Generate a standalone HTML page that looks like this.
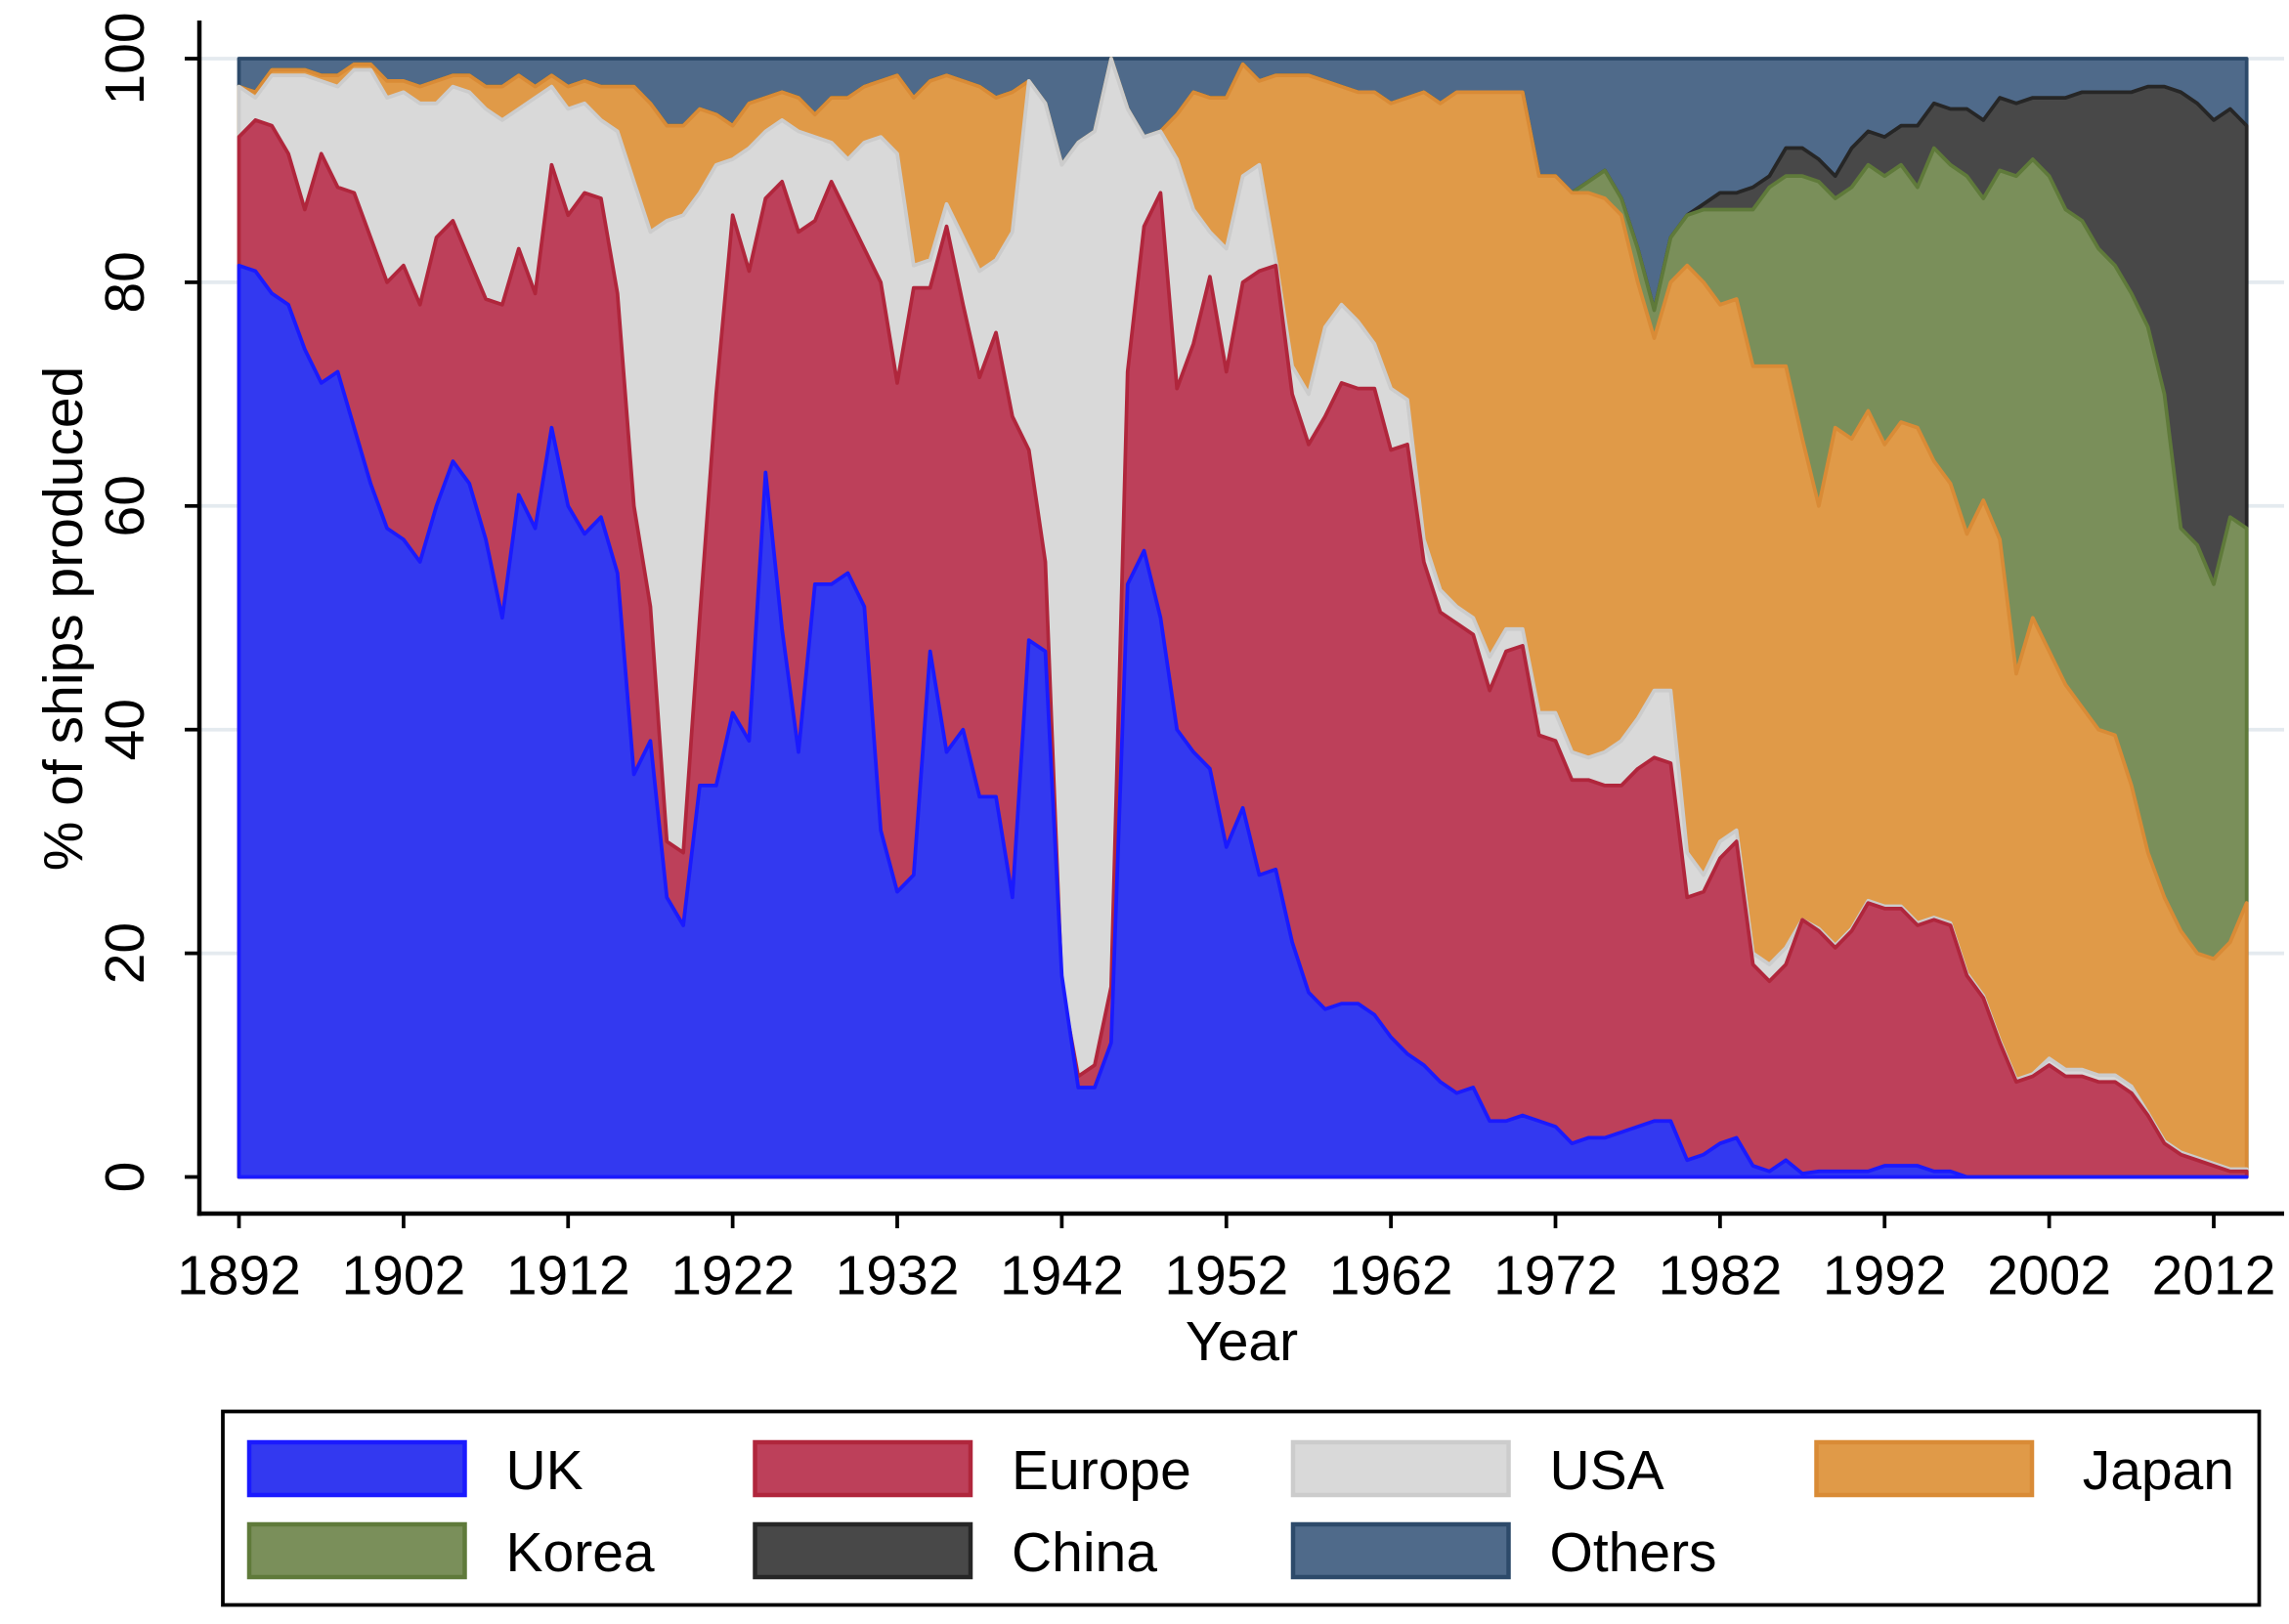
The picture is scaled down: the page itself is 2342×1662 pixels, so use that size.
<!DOCTYPE html>
<html><head><meta charset="utf-8"><style>html,body{margin:0;padding:0;background:#fff}svg{display:block}</style></head>
<body>
<svg id="s" width="2342" height="1662" viewBox="0 0 1561.33 1108" xmlns="http://www.w3.org/2000/svg" font-family="Liberation Sans, Arial, sans-serif">
<rect width="1561.33" height="1108" fill="#fff"/>
<g id="grid"></g>
<g id="areas"></g>
<g id="axes"></g>
</svg>
<script>
const NS="http://www.w3.org/2000/svg";
const X=y=>163+(y-1892)*11.225, Y=v=>803-v*7.63;
const uk=[81.5,81,79,78,74,71,72,67,62,58,57,55,60,64,62,57,50,61,58,67,60,57.5,59,54,36,39,25,22.5,35,35,41.5,39,63,49,38,53,53,54,51,31,25.5,27,47,38,40,34,34,25,48,47,18,8,8,12,53,56,50,40,38,36.5,29.5,33,27,27.5,21,16.5,15,15.5,15.5,14.5,12.5,11,10,8.5,7.5,8,5,5,5.5,5,4.5,3,3.5,3.5,4,4.5,5,5,1.5,2,3,3.5,1,0.5,1.5,0.3,0.5,0.5,0.5,0.5,1,1,1,0.5,0.5,0,0,0,0,0,0,0,0,0,0,0,0,0,0,0,0,0,0];
const eu=[93,94.5,94,91.5,86.5,91.5,88.5,88,84,80,81.5,78,84,85.5,82,78.5,78,83,79,90.5,86,88,87.5,79,60,51,30,29,50,70,86,81,87.5,89,84.5,85.5,89,86,83,80,71,79.5,79.5,85,78,71.5,75.5,68,65,55,17,9,10,17,72,85,88,70.5,74.5,80.5,72,80,81,81.5,70,65.5,68,71,70.5,70.5,65,65.5,55,50.5,49.5,48.5,43.5,47,47.5,39.5,39,35.5,35.5,35,35,36.5,37.5,37,25,25.5,28.5,30,19,17.5,19,23,22,20.5,22,24.5,24,24,22.5,23,22.5,18,16,12,8.5,9,10,9,9,8.5,8.5,7.5,5.5,3,2,1.5,1,0.5,0.5];
const usaA=[97.5,96.5,98.5,98.5,98.5,98,97.5,99,99,96.5,97,96,96,97.5,97,95.5,94.5,95.5,96.5,97.5,95.5,96,94.5,93.5,89,84.5,85.5,86,88,90.5,91,92,93.5,94.5,93.5,93,92.5,91,92.5,93,91.5,81.5,82,87,84,81,82,84.5,98,96,90.5,92.5,93.5,100,95.5,93,93.5,91,86.5,84.5,83,89.5,90.5,82,72.5,70,76,78,76.5,74.5,70.5,69.5,57,52.5,51,50,46.5,49,49,41.5,41.5,38,37.5,38,39,41,43.5,43.5,29,27,30,31,20,19,20.5,23];
const usa=eu.map((e,i)=>i<usaA.length?Math.max(usaA[i],e):e+(i>=110&&i<=115?0.6:0.2));
const jp=[97.5,97,99,99,99,98.5,98.5,99.5,99.5,98,98,97.5,98,98.5,98.5,97.5,97.5,98.5,97.5,98.5,97.5,98,97.5,97.5,97.5,96,94,94,95.5,95,94,96,96.5,97,96.5,95,96.5,96.5,97.5,98,98.5,96.5,98,98.5,98,97.5,96.5,97,98,96,90.5,92.5,93.5,100,95.5,93,93.5,95,97,96.5,96.5,99.5,98,98.5,98.5,98.5,98,97.5,97,97,96,96.5,97,96,97,97,97,97,97,89.5,89.5,88,88,87.5,86,80,75,80,81.5,80,78,78.5,72.5,72.5,72.5,66,60,67,66,68.5,65.5,67.5,67,64,62,57.5,60.5,57,45,50,47,44,42,40,39.5,35,29,25,22,20,19.5,21,24.5];
const koA={1973:88,1974:89,1975:90,1976:87.5,1977:83,1978:77.5,1979:84,1980:86,1981:86.5,1982:86.5,1983:86.5,1984:86.5,1985:88.5,1986:89.5,1987:89.5,1988:89,1989:87.5,1990:88.5,1991:90.5,1992:89.5,1993:90.5,1994:88.5,1995:92,1996:90.5,1997:89.5,1998:87.5,1999:90,2000:89.5,2001:91,2002:89.5,2003:86.5,2004:85.5,2005:83,2006:81.5,2007:79,2008:76,2009:70,2010:58,2011:56.5,2012:53,2013:59,2014:58};
const ko=jp.map((v,i)=>koA[1892+i]!==undefined?Math.max(koA[1892+i],v):v);
const chA=[87,88,88,88.5,89.5,92,92,91,89.5,92,93.5,93,94,94,96,95.5,95.5,94.5,96.5,96,96.5,96.5,96.5,97,97,97,97,97.5,97.5,97,96,94.5,95.5,94];
const ch=ko.map((v,i)=>{const y=1892+i;return y>=1981?Math.max(chA[y-1981],v):v;});
const N=123;
function poly(arr,fill,stroke){
  let d="M"+X(1892)+","+Y(0);
  for(let i=0;i<N;i++)d+=" L"+X(1892+i).toFixed(2)+","+Y(arr[i]).toFixed(2);
  d+=" L"+X(2014)+","+Y(0)+"Z";
  const p=document.createElementNS(NS,"path");p.setAttribute("d",d);p.setAttribute("fill",fill);
  p.setAttribute("stroke",stroke);p.setAttribute("stroke-width","2.5");p.setAttribute("stroke-linejoin","round");
  document.getElementById("areas").appendChild(p);
}
const ones=new Array(N).fill(100);
poly(ones,"#4f6a8a","#2d4a6a");
poly(ch,"#484848","#262626");
poly(ko,"#7a8f5a","#5f7a3a");
poly(jp,"#e09a48","#d98b36");
poly(usa,"#d9d9d9","#cccccc");
poly(eu,"#bd405a","#b0263c");
poly(uk,"#3339f0","#1a1aff");
let g=document.getElementById("grid"),h="";
for(let v=20;v<=100;v+=20)h+=`<line x1="136" x2="1558" y1="${Y(v)}" y2="${Y(v)}" stroke="#e4eaef" stroke-width="2.5"/>`;
g.innerHTML=h;
let a="";
a+=`<line x1="136" y1="14" x2="136" y2="829.5" stroke="#000" stroke-width="3"/>`;
a+=`<line x1="134.5" y1="828" x2="1558" y2="828" stroke="#000" stroke-width="3"/>`;
for(let v=0;v<=100;v+=20){a+=`<line x1="126" x2="136" y1="${Y(v)}" y2="${Y(v)}" stroke="#000" stroke-width="2.5"/>`;
 a+=`<text transform="translate(98,${Y(v)}) rotate(-90)" text-anchor="middle" font-size="38">${v}</text>`;}
for(let y=1892;y<=2012;y+=10){a+=`<line x1="${X(y)}" x2="${X(y)}" y1="828" y2="838" stroke="#000" stroke-width="2.5"/>`;
 a+=`<text x="${X(y)}" y="883" text-anchor="middle" font-size="38">${y}</text>`;}
a+=`<text x="847" y="928" text-anchor="middle" font-size="38">Year</text>`;
a+=`<text transform="translate(56,422) rotate(-90)" text-anchor="middle" font-size="38">% of ships produced</text>`;
a+=`<rect x="152" y="963" width="1389" height="132" fill="#fff" stroke="#000" stroke-width="2.5"/>`;
const L=[["UK","#3339f0","#1a1aff",170,984],["Europe","#bd405a","#b0263c",515,984],["USA","#d9d9d9","#cccccc",882,984],["Japan","#e09a48","#d98b36",1239,984],
["Korea","#7a8f5a","#5f7a3a",170,1040],["China","#484848","#262626",515,1040],["Others","#4f6a8a","#2d4a6a",882,1040]];
for(const [t,f,s,x,y] of L){a+=`<rect x="${x}" y="${y}" width="147" height="36" fill="${f}" stroke="${s}" stroke-width="3"/>`;
 const tx=t==="Japan"?1524:x+175;a+=`<text x="${tx}" y="${y+32}" font-size="38" ${t==="Japan"?'text-anchor="end"':''}>${t}</text>`;}
document.getElementById("axes").innerHTML=a;
</script>
</body></html>
